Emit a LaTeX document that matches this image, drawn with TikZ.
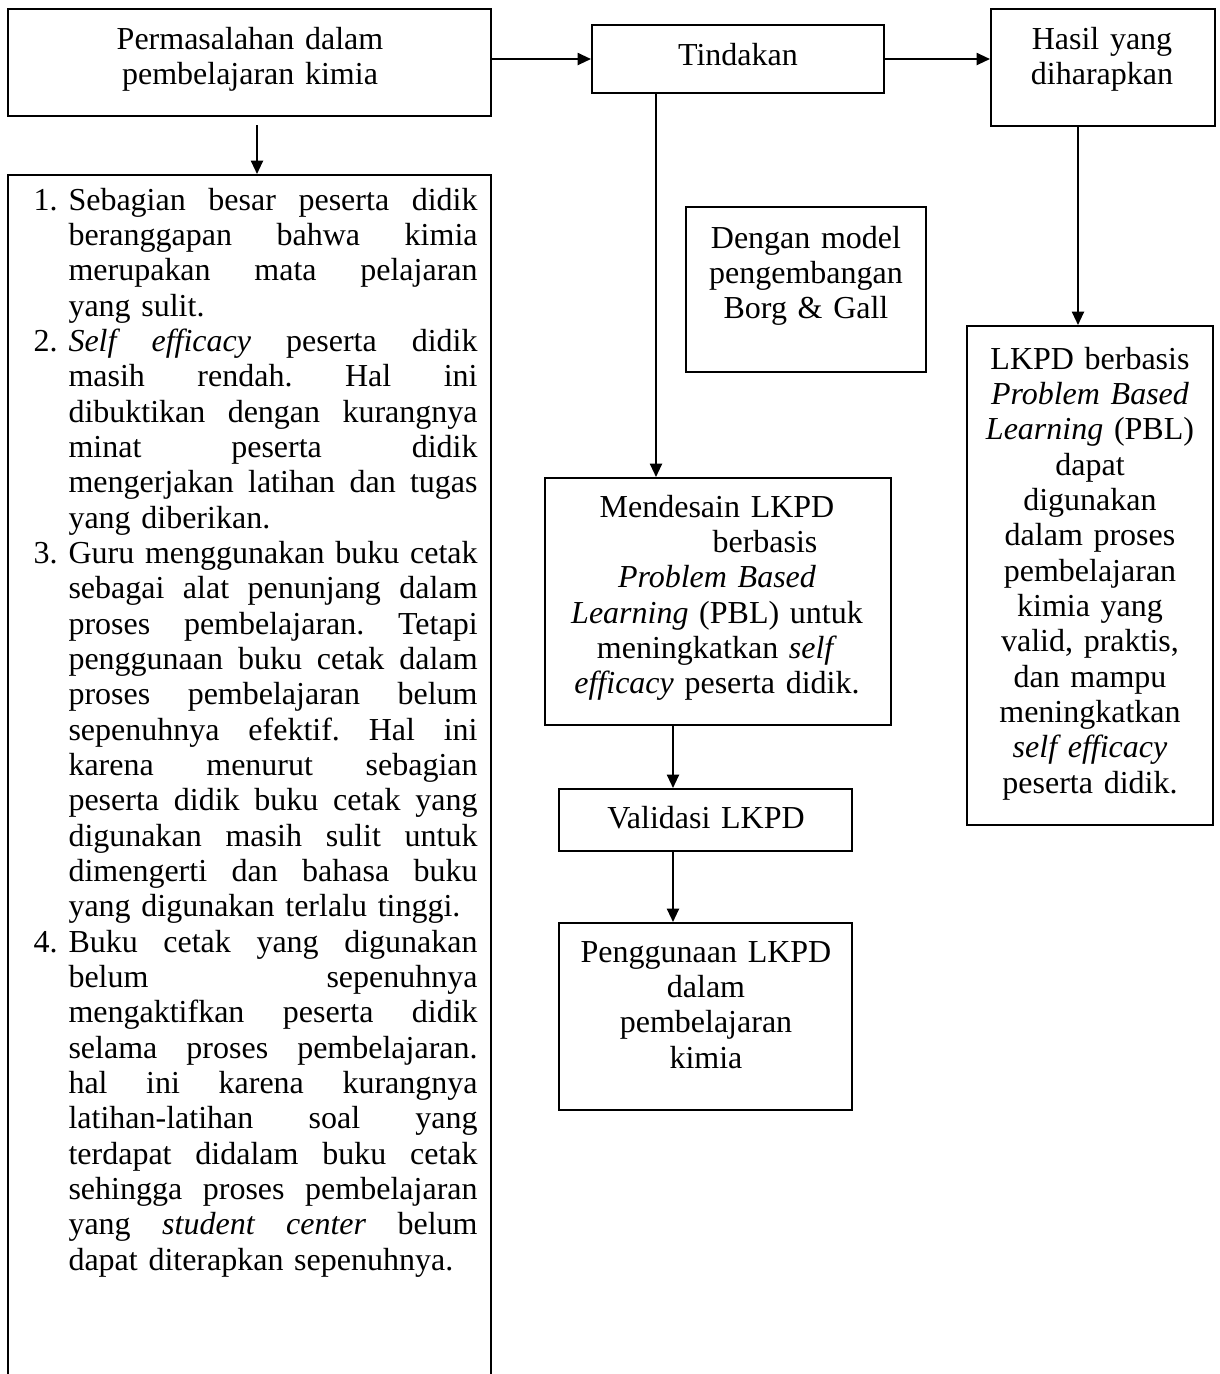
\documentclass[tikz,border=0pt]{standalone}
\usepackage{fontspec}
\setmainfont{Liberation Serif}
\usetikzlibrary{arrows.meta,fit}

% one line of the numbered list: number, stretched line, last line
\newcommand{\stretchln}[1]{\hbox to 153.4pt{\spaceskip=3pt plus 1fil minus 1pt\xspaceskip=\spaceskip #1}}
\newcommand{\itemln}[2]{\noindent\makebox[13.125pt][l]{#1}\stretchln{#2}\par}
\newcommand{\fullln}[1]{\noindent\hspace*{13.125pt}\stretchln{#1}\par}
\newcommand{\lastln}[1]{\noindent\hspace*{13.125pt}#1\par}

\tikzset{
  box/.style={draw, line width=0.75pt, inner sep=0pt},
  txt/.style={anchor=base, inner sep=0pt, align=center, text width=#1,
    font=\fontsize{12}{13.25}\selectfont\frenchspacing},
  arr/.style={-{Triangle[length=5pt,width=4.5pt]}, line width=0.75pt},
}

\begin{document}
\begin{tikzpicture}[x=0.375pt, y=-0.375pt]
\useasboundingbox (0,0) rectangle (1220,1374);
\clip (0,0) rectangle (1220,1374);

% Boxes
\node[box, fit={(8,9) (491,116)}] (masalah) {};
\node[box, fit={(592,25) (884,93)}] (tindakan) {};
\node[box, fit={(991,9) (1215,126)}] (hasil) {};
\node[box, fit={(8,175) (491,1400)}] (daftar) {};
\node[box, fit={(686,207) (926,372)}] (model) {};
\node[box, fit={(545,478) (891,725)}] (desain) {};
\node[box, fit={(559,789) (852,851)}] (validasi) {};
\node[box, fit={(559,923) (852,1110)}] (guna) {};
\node[box, fit={(967,326) (1213,825)}] (lkpd) {};

% Texts
\node[txt=180pt] (tmasalah) at (250,49) {Permasalahan dalam\\ pembelajaran kimia};
\node[txt=108pt] (ttindakan) at (738,65) {Tindakan};
\node[txt=84pt] (thasil) at (1102,49) {Hasil yang\\ diharapkan};
\node[txt=90pt] (tmodel) at (806,248) {Dengan model\\ pengembangan\\ Borg \& Gall};
\node[txt=129pt] (tdesain) at (717,517) {Mendesain LKPD\\ \hspace*{36pt}berbasis\\
  \textit{Problem Based}\\ \textit{Learning} (PBL) untuk\\
  meningkatkan \textit{self}\\ \textit{efficacy} peserta didik.};
\node[txt=109pt] (tvalidasi) at (706,828) {Validasi LKPD};
\node[txt=109pt] (tguna) at (706,962) {Penggunaan LKPD\\ dalam\\ pembelajaran\\ kimia};
\node[txt=92pt] (tlkpd) at (1090,369) {LKPD berbasis\\ \textit{Problem Based}\\
  \textit{Learning} (PBL)\\ dapat\\ digunakan\\ dalam proses\\ pembelajaran\\
  kimia yang\\ valid, praktis,\\ dan mampu\\ meningkatkan\\ \textit{self efficacy}\\
  peserta didik.};

% Numbered list
\node[anchor=base west, inner sep=0pt, text width=166.6pt,
  font=\fontsize{12}{13.25}\selectfont\frenchspacing] (tdaftar) at (33,210) {%
  \itemln{1.}{Sebagian besar peserta didik}
  \fullln{beranggapan bahwa kimia}
  \fullln{merupakan mata pelajaran}
  \lastln{yang sulit.}
  \itemln{2.}{\textit{Self efficacy} peserta didik}
  \fullln{masih rendah. Hal ini}
  \fullln{dibuktikan dengan kurangnya}
  \fullln{minat peserta didik}
  \fullln{mengerjakan latihan dan tugas}
  \lastln{yang diberikan.}
  \itemln{3.}{Guru menggunakan buku cetak}
  \fullln{sebagai alat penunjang dalam}
  \fullln{proses pembelajaran. Tetapi}
  \fullln{penggunaan buku cetak dalam}
  \fullln{proses pembelajaran belum}
  \fullln{sepenuhnya efektif. Hal ini}
  \fullln{karena menurut sebagian}
  \fullln{peserta didik buku cetak yang}
  \fullln{digunakan masih sulit untuk}
  \fullln{dimengerti dan bahasa buku}
  \lastln{yang digunakan terlalu tinggi.}
  \itemln{4.}{Buku cetak yang digunakan}
  \fullln{belum sepenuhnya}
  \fullln{mengaktifkan peserta didik}
  \fullln{selama proses pembelajaran.}
  \fullln{hal ini karena kurangnya}
  \fullln{latihan-latihan soal yang}
  \fullln{terdapat didalam buku cetak}
  \fullln{sehingga proses pembelajaran}
  \fullln{yang \textit{student center} belum}
  \lastln{dapat diterapkan sepenuhnya.}};

% Connectors
\coordinate (a1) at (257,125);
\coordinate (t1) at (656,93);
\coordinate (d1) at (673,725);
\coordinate (h1) at (1078,126);
\draw[arr] (masalah.east |- tindakan.west) -- (tindakan.west);
\draw[arr] (tindakan.east) -- (tindakan.east -| hasil.west);
\draw[arr] (a1) -- (a1 |- daftar.north);
\draw[arr] (t1) -- (t1 |- desain.north);
\draw[arr] (d1) -- (d1 |- validasi.north);
\draw[arr] (d1 |- validasi.south) -- (d1 |- guna.north);
\draw[arr] (h1) -- (h1 |- lkpd.north);

\end{tikzpicture}
\end{document}
